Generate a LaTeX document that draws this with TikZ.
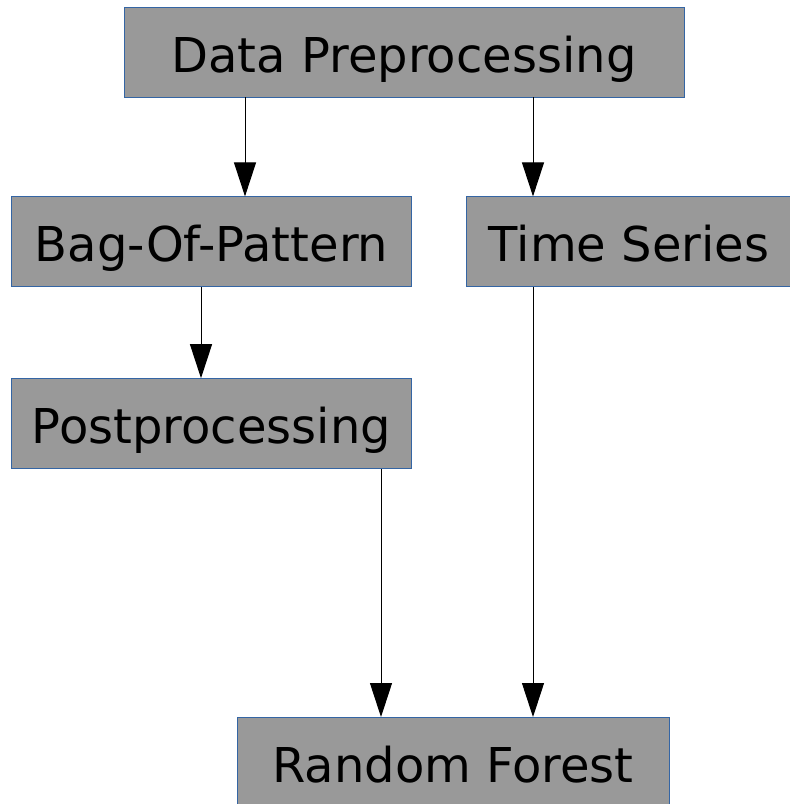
\documentclass[tikz,border=0pt]{standalone}
\usepackage{fontspec}
\setmainfont{DejaVu Sans}
\usetikzlibrary{positioning,arrows.meta}
\definecolor{boxfill}{RGB}{153,153,153}
\definecolor{boxline}{RGB}{52,101,164}
\begin{document}
\begin{tikzpicture}[x=1pt, y=-1pt]
        \tikzstyle{every node} = [draw=boxline, fill=boxfill, line width=0.8pt, minimum height=90pt, inner sep=0pt, text height=40pt, text depth=0pt, font=\fontsize{48}{58}\selectfont]
        \tikzstyle{flow} = [-{Triangle[length=34pt,width=22pt]}, line width=1pt, black]
        \useasboundingbox (0,0) rectangle (790,804);

        \node[minimum width=560pt](dp) at (404,52){Data Preprocessing};
        \node[minimum width=400pt, below=99pt of dp, xshift=-192.5pt](bop){Bag-Of-Pattern};
        \node[minimum width=325pt, below=99pt of dp, xshift=225pt](ts){Time Series};
        \node[minimum width=400pt, below=91pt of bop](pp){Postprocessing};
        \node[minimum width=432pt, below=248pt of pp, xshift=241.5pt](rf){Random Forest};

        \draw[flow] ([xshift=-159pt]dp.south) -- ([xshift=33.5pt]bop.north);
        \draw[flow] ([xshift=129pt]dp.south) -- ([xshift=-96pt]ts.north);
        \draw[flow] ([xshift=-10.5pt]bop.south) -- ([xshift=-10.5pt]pp.north);
        \draw[flow] ([xshift=169.5pt]pp.south) -- ([xshift=-72pt]rf.north);
        \draw[flow] ([xshift=-96pt]ts.south) -- ([xshift=80pt]rf.north);
    \end{tikzpicture}
\end{document}
